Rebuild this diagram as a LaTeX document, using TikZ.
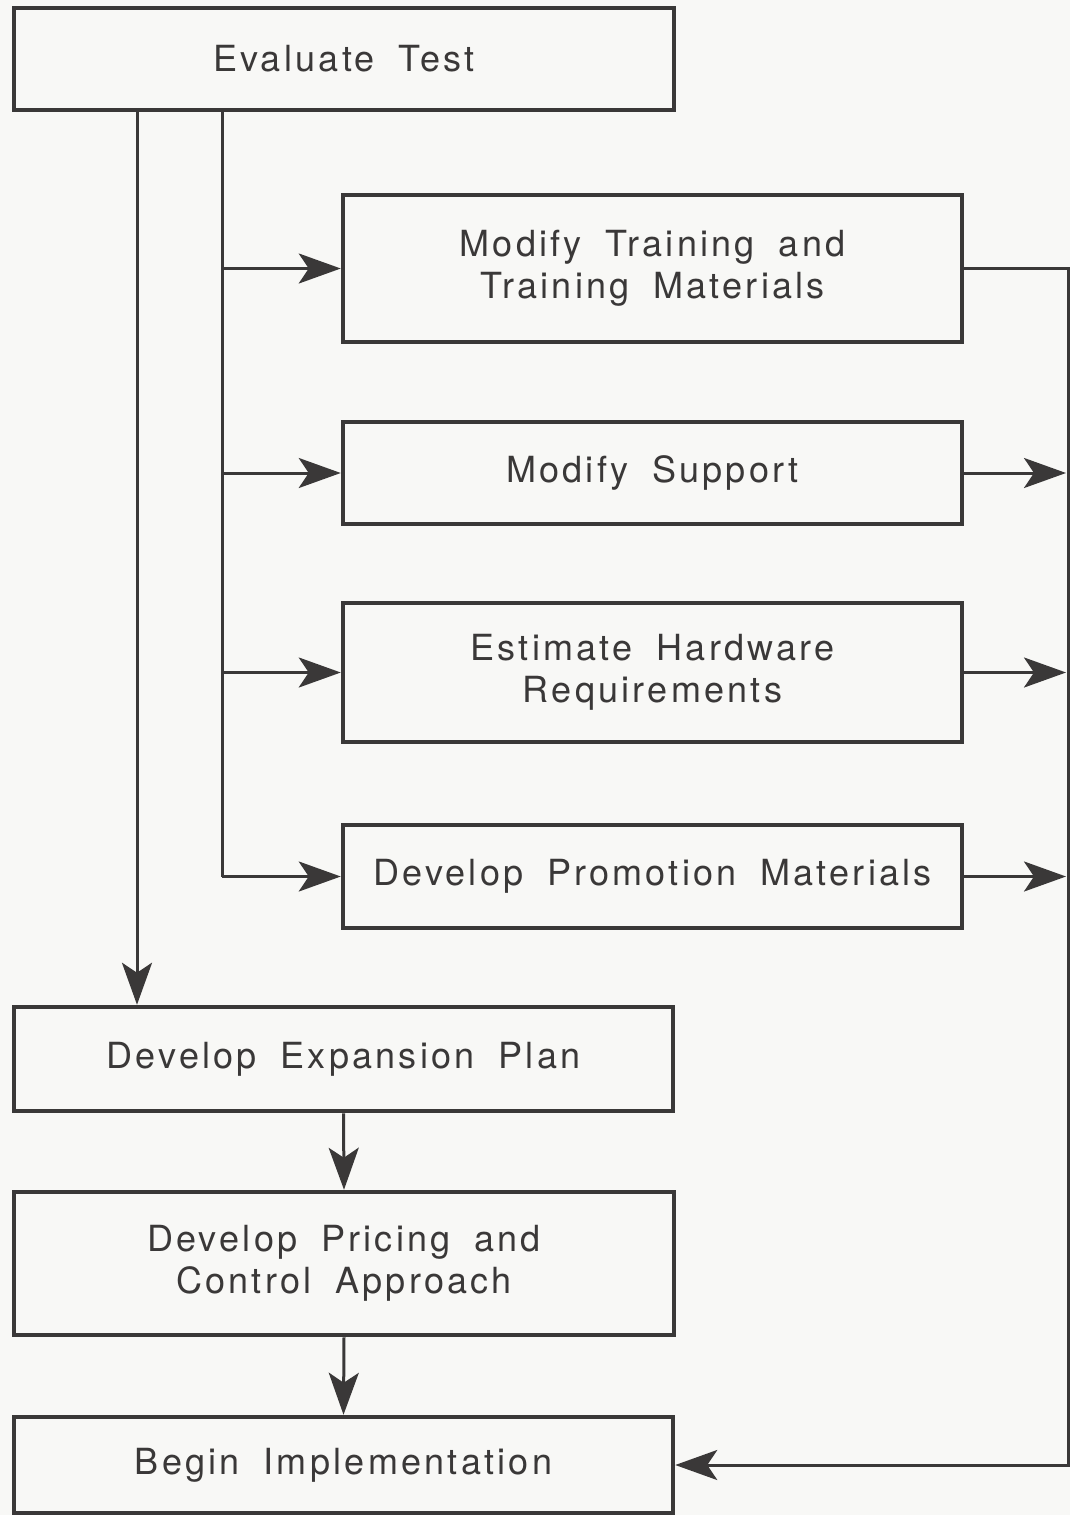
\documentclass[tikz,border=0pt]{standalone}
\usepackage{fontspec}
\setmainfont{TeX Gyre Heros}[LetterSpace=9,WordSpace=1.8]
\usetikzlibrary{arrows.meta}
\definecolor{ink}{HTML}{3A3838}
\definecolor{paper}{HTML}{F8F8F6}
\begin{document}
\begin{tikzpicture}[x=1pt,y=-1pt,
  box/.style={draw=ink, line width=4.5pt, rectangle, align=center, text=ink,
    font=\fontsize{36}{42}\selectfont, inner sep=0pt},
  conn/.style={draw=ink, line width=3pt},
  arr/.style={conn, -{Stealth[length=42pt,width=30pt,inset=10pt]}}]
\fill[paper] (0,0) rectangle (1070,1515);
\useasboundingbox (0,0) rectangle (1070,1515);
\node[box, minimum width=660pt, minimum height=102pt] (eval) at (344,59) {Evaluate Test};
\node[box, minimum width=619pt, minimum height=147pt] (mt) at (652.5,268.5) {Modify Training and\\Training Materials};
\node[box, minimum width=619pt, minimum height=102pt] (ms) at (652.5,473) {Modify Support};
\node[box, minimum width=619pt, minimum height=139pt] (eh) at (652.5,672.5) {Estimate Hardware\\Requirements};
\node[box, minimum width=619pt, minimum height=103pt] (pm) at (652.5,876.5) {Develop Promotion Materials};
\node[box, minimum width=659pt, minimum height=104pt] (ep) at (343.5,1059) {Develop Expansion Plan};
\node[box, minimum width=660pt, minimum height=143pt] (pc) at (344,1263.5) {Develop Pricing and\\Control Approach};
\node[box, minimum width=659pt, minimum height=96pt] (bi) at (343.5,1465) {Begin Implementation};
\coordinate (lx) at (137,0);
\coordinate (tx) at (222,0);
\coordinate (rx) at (1068,0);
\coordinate (ax) at (1066,0);
% left long arrow
\draw[arr] (eval.south -| lx) -- (ep.north -| lx);
% trunk
\draw[conn] (eval.south -| tx) -- (tx |- pm.west);
\draw[arr] (tx |- mt.west) -- (mt.west);
\draw[arr] (tx |- ms.west) -- (ms.west);
\draw[arr] (tx |- eh.west) -- (eh.west);
\draw[arr] (tx |- pm.west) -- (pm.west);
% right side
\draw[arr] (mt.east) -- (rx |- mt.east) -- (rx |- bi.east) -- (bi.east);
\draw[arr] (ms.east) -- (ax |- ms.east);
\draw[arr] (eh.east) -- (ax |- eh.east);
\draw[arr] (pm.east) -- (ax |- pm.east);
% bottom chain
\draw[arr] (ep.south) -- (pc.north);
\draw[arr] (pc.south) -- (bi.north);
\end{tikzpicture}
\end{document}
